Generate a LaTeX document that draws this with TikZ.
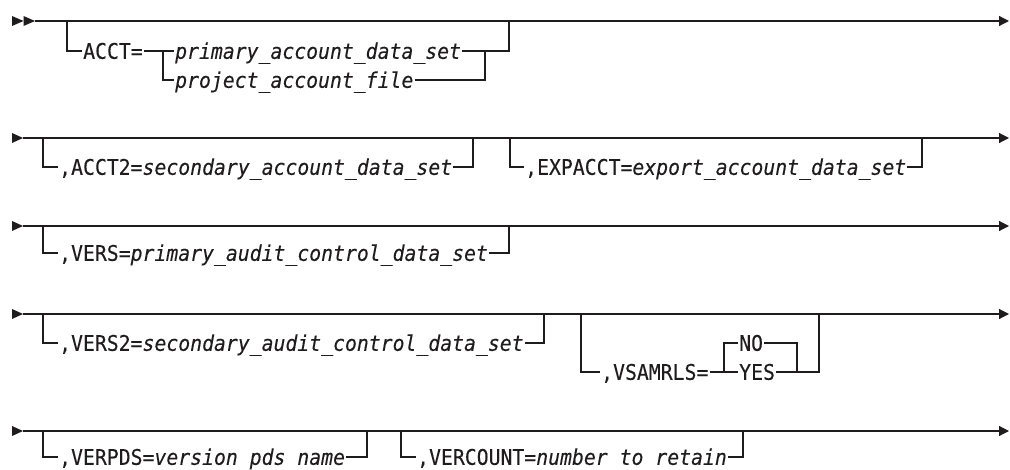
\documentclass[tikz,border=0pt]{standalone}
\usepackage{fontspec}
\usetikzlibrary{arrows.meta}
\newfontfamily\synfont[FakeStretch=0.92,FakeBold=0.12]{DejaVu Sans Mono}
\definecolor{ink}{RGB}{30,28,29}
\tikzset{
  rail/.style={line width=1.2pt, draw=ink, line join=miter},
  endrail/.style={rail, -{Triangle[length=10pt,width=10pt]}},
  kw/.style={anchor=west, inner xsep=1pt, inner ysep=0pt, text height=15.6pt, text depth=0pt,
             font=\synfont\fontsize{21.5}{22}\selectfont, text=ink},
  tip/.style={fill=ink},
}
\begin{document}
\begin{tikzpicture}[x=1pt,y=1pt]
\useasboundingbox (0,0) rectangle (1010,-470);

% ---------- row 1 ----------
\fill[tip] (12,-16) -- (23.5,-21) -- (12,-26) -- cycle;
\fill[tip] (23.5,-16) -- (35,-21) -- (23.5,-26) -- cycle;
\coordinate (a1) at (35,-21);
\coordinate (e1) at (1009,-21);
\draw[endrail] (a1) -- (e1);
\node[kw] (acct) at (82,-51) {ACCT=};
\node[kw] (pads) at (174,-51) {\itshape primary\_account\_data\_set};
\node[kw] (paf) at (174,-80) {\itshape project\_account\_file};
\coordinate (b1l) at (67,-21);
\coordinate (c1l) at (163,-51);
\coordinate (c1r) at (485,-51);
\coordinate (b1r) at (509,-21);
\draw[rail] (b1l) |- (acct.west);
\draw[rail] (acct.east) -- (c1l) -- (pads.west);
\draw[rail] (c1l) |- (paf.west);
\draw[rail] (pads.east) -- (c1r);
\draw[rail] (paf.east) -| (c1r);
\draw[rail] (c1r) -| (b1r);

% ---------- row 2 ----------
\fill[tip] (12,-133) -- (23,-138) -- (12,-143) -- cycle;
\coordinate (a2) at (23,-138);
\coordinate (e2) at (1009,-138);
\draw[endrail] (a2) -- (e2);
\node[kw] (acct2) at (58,-167) {,ACCT2=\textit{secondary\_account\_data\_set}};
\coordinate (b2l) at (43,-138);
\coordinate (b2r) at (473,-138);
\draw[rail] (b2l) |- (acct2.west);
\draw[rail] (acct2.east) -| (b2r);
\node[kw] (expacct) at (524,-167) {,EXPACCT=\textit{export\_account\_data\_set}};
\coordinate (b3l) at (510,-138);
\coordinate (b3r) at (922,-138);
\draw[rail] (b3l) |- (expacct.west);
\draw[rail] (expacct.east) -| (b3r);

% ---------- row 3 ----------
\fill[tip] (12,-221) -- (23,-226) -- (12,-231) -- cycle;
\coordinate (a3) at (23,-226);
\coordinate (e3) at (1009,-226);
\draw[endrail] (a3) -- (e3);
\node[kw] (vers) at (58,-253) {,VERS=\textit{primary\_audit\_control\_data\_set}};
\coordinate (b4l) at (43,-226);
\coordinate (b4r) at (509,-226);
\draw[rail] (b4l) |- (vers.west);
\draw[rail] (vers.east) -| (b4r);

% ---------- row 4 ----------
\fill[tip] (12,-309) -- (23,-314) -- (12,-319) -- cycle;
\coordinate (a4) at (23,-314);
\coordinate (e4) at (1009,-314);
\draw[endrail] (a4) -- (e4);
\node[kw] (vers2) at (58,-343) {,VERS2=\textit{secondary\_audit\_control\_data\_set}};
\coordinate (b5l) at (43,-314);
\coordinate (b5r) at (544,-314);
\draw[rail] (b5l) |- (vers2.west);
\draw[rail] (vers2.east) -| (b5r);
\node[kw] (vsam) at (600,-372) {,VSAMRLS=};
\node[kw] (no) at (738,-343) {NO};
\node[kw] (yes) at (738,-372) {YES};
\coordinate (b6l) at (581,-314);
\coordinate (c6l) at (724,-372);
\coordinate (c6r) at (797,-372);
\coordinate (b6r) at (819,-314);
\draw[rail] (b6l) |- (vsam.west);
\draw[rail] (vsam.east) -- (c6l) -- (yes.west);
\draw[rail] (c6l) |- (no.west);
\draw[rail] (no.east) -| (c6r);
\draw[rail] (yes.east) -- (c6r) -| (b6r);

% ---------- row 5 ----------
\fill[tip] (12,-426) -- (23,-431) -- (12,-436) -- cycle;
\coordinate (a5) at (23,-431);
\coordinate (e5) at (1009,-431);
\draw[endrail] (a5) -- (e5);
\node[kw] (verpds) at (58,-457) {,VERPDS=\textit{version pds name}};
\coordinate (b7l) at (43,-431);
\coordinate (b7r) at (367,-431);
\draw[rail] (b7l) |- (verpds.west);
\draw[rail] (verpds.east) -| (b7r);
\node[kw] (vercount) at (416,-457) {,VERCOUNT=\textit{number to retain}};
\coordinate (b8l) at (401,-431);
\coordinate (b8r) at (743,-431);
\draw[rail] (b8l) |- (vercount.west);
\draw[rail] (vercount.east) -| (b8r);
\end{tikzpicture}
\end{document}
